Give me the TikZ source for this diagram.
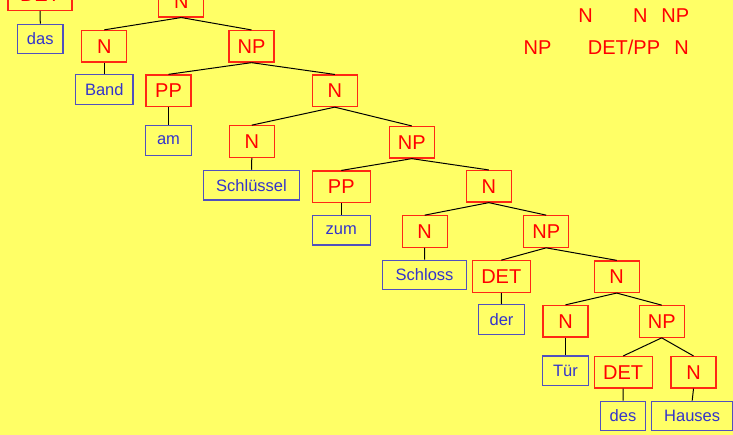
\documentclass[tikz,border=0pt]{standalone}
\usepackage{fontspec}
\setmainfont{Liberation Sans}
\definecolor{bgyellow}{RGB}{255,255,102}
\definecolor{catred}{RGB}{255,0,0}
\definecolor{catborder}{RGB}{255,40,20}
\definecolor{wordblue}{RGB}{51,51,204}
\definecolor{wordborder}{RGB}{80,80,190}
\tikzset{
  cat/.style={draw=catborder, line width=1.2pt, text=catred, font=\fontsize{20}{20}\selectfont,
    minimum width=45pt, minimum height=31.5pt, inner sep=0pt, rectangle},
  catw/.style={cat, minimum width=58pt},
  word/.style={draw=wordborder, line width=1.2pt, text=wordblue, font=\fontsize{16.5}{16.5}\selectfont,
    minimum width=45.5pt, minimum height=29.7pt, inner sep=0pt, rectangle},
  free/.style={text=catred, font=\fontsize{20}{20}\selectfont, anchor=base, inner sep=0pt},
  edge/.style={draw=black, line width=1pt}
}
\begin{document}
\begin{tikzpicture}[x=1pt,y=-1pt]
\fill[bgyellow] (0,0) rectangle (733,435);
\useasboundingbox (0,0) rectangle (733,435);
% left fragment
\node[cat, minimum width=64pt] (det0) at (40,-5.5) {DET};
\node[word] (das) at (40.3,39) {das};
% tree
\node[cat] (n0) at (181.3,1.2) {N};
\node[cat] (n1) at (104.3,46.2) {N};
\node[cat] (np1) at (251.5,46.3) {NP};
\node[word, minimum width=57.3pt] (band) at (104.3,89.3) {Band};
\node[cat] (pp1) at (168.5,90.7) {PP};
\node[cat] (n2) at (334.8,90.8) {N};
\node[word] (am) at (168.5,140.3) {am};
\node[cat] (n3) at (251.8,141.5) {N};
\node[cat] (np2) at (411.8,142.3) {NP};
\node[word, minimum width=96.4pt] (schluessel) at (251.5,185.2) {Schlüssel};
\node[catw] (pp2) at (341.3,186.8) {PP};
\node[cat] (n4) at (488.8,186.3) {N};
\node[word, minimum width=58pt] (zum) at (341.3,230.2) {zum};
\node[cat] (n5) at (424.7,231.5) {N};
\node[cat] (np3) at (546.2,231.5) {NP};
\node[word, minimum width=84pt] (schloss) at (424.6,275) {Schloss};
\node[catw] (det1) at (501.3,276.5) {DET};
\node[cat] (n6) at (616.7,276.7) {N};
\node[word] (der) at (501.5,319.5) {der};
\node[cat] (n7) at (565.5,321.2) {N};
\node[cat] (np4) at (661.7,321.5) {NP};
\node[word] (tuer) at (565.5,370.8) {Tür};
\node[catw] (det2) at (623.2,372.3) {DET};
\node[cat] (n8) at (693.5,372.3) {N};
\node[word] (des) at (623,416) {des};
\node[word, minimum width=81pt] (hauses) at (692.2,416) {Hauses};
% connectors
\draw[edge] (det0.south) -- (das.north);
\draw[edge] (n0.south) -- (n1.north);
\draw[edge] (n0.south) -- (np1.north);
\draw[edge] (n1.south) -- (band.north);
\draw[edge] (np1.south) -- (pp1.north);
\draw[edge] (np1.south) -- (n2.north);
\draw[edge] (pp1.south) -- (am.north);
\draw[edge] (n2.south) -- (n3.north);
\draw[edge] (n2.south) -- (np2.north);
\draw[edge] (n3.south) -- (schluessel.north);
\draw[edge] (np2.south) -- (pp2.north);
\draw[edge] (np2.south) -- (n4.north);
\draw[edge] (pp2.south) -- (zum.north);
\draw[edge] (n4.south) -- (n5.north);
\draw[edge] (n4.south) -- (np3.north);
\draw[edge] (n5.south) -- (schloss.north);
\draw[edge] (np3.south) -- (det1.north);
\draw[edge] (np3.south) -- (n6.north);
\draw[edge] (det1.south) -- (der.north);
\draw[edge] (n6.south) -- (n7.north);
\draw[edge] (n6.south) -- (np4.north);
\draw[edge] (n7.south) -- (tuer.north);
\draw[edge] (np4.south) -- (det2.north);
\draw[edge] (np4.south) -- (n8.north);
\draw[edge] (det2.south) -- (des.north);
\draw[edge] (n8.south) -- (hauses.north);
% free labels top right
\node[free] (r1a) at (585.7,22.7) {N};
\node[free] (r1b) at (640.3,22.7) {N};
\node[free] (r1c) at (675.3,22.7) {NP};
\node[free] (r2a) at (537.5,55) {NP};
\node[free] (r2b) at (624,55) {DET/PP};
\node[free] (r2c) at (681.7,55) {N};
\end{tikzpicture}
\end{document}
